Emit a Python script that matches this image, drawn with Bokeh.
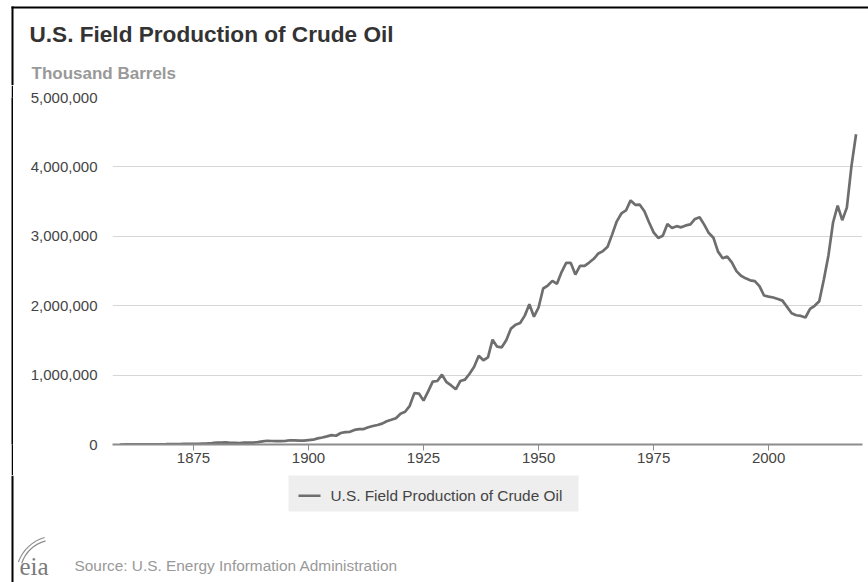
import math
from bokeh.plotting import figure
from bokeh.layouts import column, row
from bokeh.models import (Range1d, FixedTicker, NumeralTickFormatter, Label,
                          BoxAnnotation, ColumnDataSource, Spacer)
from bokeh.embed import file_html
from bokeh.resources import INLINE

# ---------------- data (thousand barrels) ----------------
chart_title = "U.S. Field Production of Crude Oil"
unit_label = "Thousand Barrels"
series_name = "U.S. Field Production of Crude Oil"
source_text = "Source: U.S. Energy Information Administration"

years = list(range(1859, 2020))
production = [
    2, 500, 2114, 3057, 2611, 2116, 2498, 3598, 3347, 3646,            # 1859-1868
    4215, 5261, 5205, 6293, 9894, 10927, 8788, 9133, 13350, 15397,    # 1869-1878
    19914, 26286, 27661, 30350, 23450, 24218, 21859, 28065, 28283, 27612,  # 1879-1888
    35164, 45824, 54293, 50515, 48431, 49344, 52892, 60960, 60476, 55364,  # 1889-1898
    57071, 63621, 69389, 88767, 100461, 117081, 134717, 126494, 166095, 178527,  # 1899-1908
    183171, 209557, 220449, 222935, 248446, 265763, 281104, 300767, 335316, 355928,  # 1909-1918
    378367, 442929, 472183, 557531, 740000, 735000, 632000, 765000, 905000, 915000,  # 1919-1928
    1007000, 898000, 851000, 795000, 915000, 935000, 1020000, 1120000, 1279000, 1214000,  # 1929-1938
    1255000, 1510000, 1410000, 1400000, 1506000, 1670000, 1725000, 1750000, 1857000, 2020000,  # 1939-1948
    1842000, 1974000, 2248000, 2290000, 2357000, 2315000, 2484000, 2617000, 2617000, 2449000,  # 1949-1958
    2575000, 2575000, 2622000, 2676000, 2753000, 2787000, 2849000, 3028000, 3216000, 3329000,  # 1959-1968
    3372000, 3517000, 3454000, 3455000, 3361000, 3203000, 3057000, 2976000, 3009000, 3178000,  # 1969-1978
    3121000, 3146000, 3129000, 3157000, 3171000, 3250000, 3275000, 3168000, 3047000, 2979000,  # 1979-1988
    2779000, 2685000, 2707000, 2625000, 2499000, 2431000, 2394000, 2366000, 2355000, 2282000,  # 1989-1998
    2147000, 2131000, 2118000, 2097000, 2073000, 1983000, 1890000, 1862000, 1853000, 1830000,  # 1999-2008
    1953000, 1999000, 2065000, 2377000, 2725000, 3199000, 3442000, 3232000, 3413000, 4011000,  # 2009-2018
    4471000,                                                                                 # 2019
]
x_ticks = [1875, 1900, 1925, 1950, 1975, 2000]
y_ticks = [0, 1000000, 2000000, 3000000, 4000000, 5000000]

FONT = "Liberation Sans"
LINE_COLOR = "#6e6e6e"
W = 868
HEADER_H = 85
MAIN_H = 390
FOOTER_H = 582 - HEADER_H - MAIN_H
EDGE_X = 11      # left black edge of the framed box
EDGE_W = 2
BASELINE_SHIFT = 0.38   # Bokeh's text box sits this many em below the anchor


def blank_fig(width, height, y_top, y_bottom, fill="white"):
    """A figure whose frame is its whole canvas; y grows downwards (page px)."""
    f = figure(width=width, height=height, output_backend="svg", toolbar_location=None,
               x_range=Range1d(0, width), y_range=Range1d(y_bottom, y_top),
               x_axis_type=None, y_axis_type=None, min_border=0)
    f.outline_line_color = None
    f.background_fill_color = fill
    f.border_fill_color = fill
    return f


def box(f, left, right, top, bottom, color="black"):
    f.add_layout(BoxAnnotation(left=left, right=right, top=top, bottom=bottom,
                               fill_color=color, fill_alpha=1.0, line_color=None))


def add_text(f, x, baseline, text, size, color, bold=False, font=FONT):
    y = baseline - BASELINE_SHIFT * size
    f.add_layout(Label(x=x, y=y, text=text, text_font=font, text_font_size=f"{size}px",
                       text_color=color, text_font_style="bold" if bold else "normal",
                       text_baseline="alphabetic", text_align="left"))


# ---------------- header ----------------
header = blank_fig(W, HEADER_H, 0, HEADER_H)
box(header, EDGE_X, W, 8, 6)
box(header, EDGE_X, EDGE_X + EDGE_W, HEADER_H, 6)
add_text(header, 29, 43, chart_title, 22.6, "#333333", bold=True)
add_text(header, 31, 79, unit_label, 17, "#999999", bold=True)

# ---------------- left edge beside the chart ----------------
edge_gap = Spacer(width=EDGE_X, height=MAIN_H)
edge = blank_fig(EDGE_W, MAIN_H, HEADER_H, HEADER_H + MAIN_H, fill="black")

# ---------------- main chart ----------------
src = ColumnDataSource(data=dict(year=years, value=production))

p = figure(width=W - EDGE_X - EDGE_W, height=MAIN_H, output_backend="svg",
           toolbar_location=None,
           x_range=Range1d(1857.4, 2020.4), y_range=Range1d(0, 5000000),
           min_border_left=112 - EDGE_X - EDGE_W, min_border_right=6, min_border_top=12,
           min_border_bottom=MAIN_H - 12 - 347)
p.outline_line_color = None
p.background_fill_color = "white"
p.border_fill_color = "white"

p.xaxis.ticker = FixedTicker(ticks=x_ticks)
p.xaxis.axis_line_color = "#8c8c8c"
p.xaxis.axis_line_width = 2
p.xaxis.major_tick_line_color = "#8c8c8c"
p.xaxis.major_tick_out = 6
p.xaxis.major_tick_in = 0
p.xaxis.minor_tick_line_color = None
p.xaxis.major_label_text_font = FONT
p.xaxis.major_label_text_font_size = "15px"
p.xaxis.major_label_text_color = "#444444"
p.xaxis.major_label_standoff = 2

p.yaxis.ticker = FixedTicker(ticks=y_ticks)
p.yaxis.formatter = NumeralTickFormatter(format="0,0")
p.yaxis.axis_line_color = None
p.yaxis.major_tick_line_color = None
p.yaxis.minor_tick_line_color = None
p.yaxis.major_label_text_font = FONT
p.yaxis.major_label_text_font_size = "15px"
p.yaxis.major_label_text_color = "#444444"
p.yaxis.major_label_standoff = 9

p.xgrid.visible = False
p.ygrid.grid_line_color = "#d6d6d6"
p.ygrid.grid_line_width = 1

p.line(x="year", y="value", source=src, line_color=LINE_COLOR, line_width=2.7)

# ---------------- footer: legend + source ----------------
footer = blank_fig(W, FOOTER_H, HEADER_H + MAIN_H, 582)
box(footer, EDGE_X, EDGE_X + EDGE_W, 582, HEADER_H + MAIN_H)
# legend (background, key line, label)
box(footer, 288, 578, 474.5, 511, color="#eeeeee")
box(footer, 298, 320, 494, 496.6, color=LINE_COLOR)
add_text(footer, 330, 501, series_name, 15.4, "#444444")
# logo (swoosh + letters) and source note
footer.arc(x=[55, 55], y=[575, 575], radius=[36, 39.5],
           start_angle=math.radians(106), end_angle=math.radians(160),
           line_color="#8f8f8f", line_width=1.2)
add_text(footer, 19, 575, "eia", 25, "#7a7a7a", font="Liberation Serif")
add_text(footer, 74, 571, source_text, 15.4, "#999999")

layout = column(header, row(edge_gap, edge, p, spacing=0), footer, spacing=0)

open("out.html", "w").write(file_html(layout, INLINE))
